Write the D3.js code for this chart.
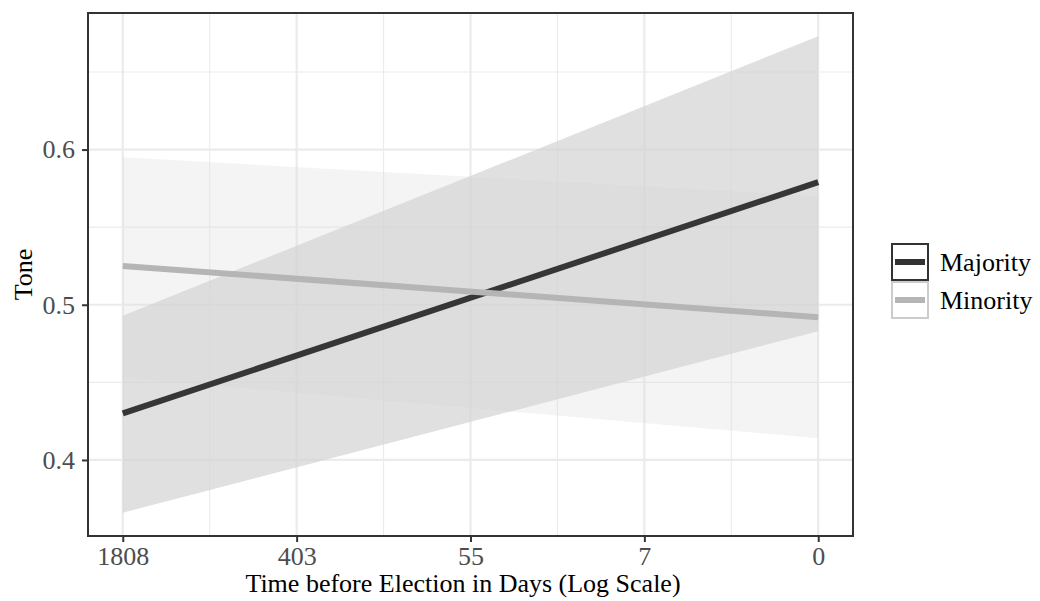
<!DOCTYPE html>
<html><head><meta charset="utf-8">
<script src="https://cdn.jsdelivr.net/npm/d3@7"></script>
<style>body{margin:0;background:#fff}svg{display:block}text{font-family:"Liberation Serif","Times New Roman",serif}</style>
</head><body><svg id="c" width="1040" height="601"></svg>
<script>
// data
const tickPos = [0, 1, 2, 3, 4];
const tickLabels = ["1808", "403", "55", "7", "0"];
const series = ["Majority", "Minority"];
const xEnds = [0, 4];
const majorityFit = [0.430, 0.579];
const majorityLo = [0.366, 0.483];
const majorityHi = [0.493, 0.673];
const minorityFit = [0.525, 0.492];
const minorityLo = [0.453, 0.414];
const minorityHi = [0.595, 0.570];
const yTicks = [0.4, 0.5, 0.6];
const yMinor = [0.45, 0.55, 0.65];

const svg = d3.select("#c");
const L = 88, R = 853, T = 13, B = 536;
const x = d3.scaleLinear().domain([-0.2, 4.2]).range([L, R]);
const y = d3.scaleLinear().domain([0.351, 0.688]).range([B, T]);

svg.append("rect").attr("x", L).attr("y", T).attr("width", R - L).attr("height", B - T).attr("fill", "#fff");
const grid = svg.append("g");
const xMinor = d3.range(0, 4).map(i => i + 0.5);
xMinor.forEach(v => grid.append("line").attr("x1", x(v)).attr("x2", x(v)).attr("y1", T).attr("y2", B).attr("stroke", "#ebebeb").attr("stroke-width", 1.1));
yMinor.forEach(v => grid.append("line").attr("x1", L).attr("x2", R).attr("y1", y(v)).attr("y2", y(v)).attr("stroke", "#ebebeb").attr("stroke-width", 1.1));
tickPos.forEach(v => grid.append("line").attr("x1", x(v)).attr("x2", x(v)).attr("y1", T).attr("y2", B).attr("stroke", "#ebebeb").attr("stroke-width", 2.2));
yTicks.forEach(v => grid.append("line").attr("x1", L).attr("x2", R).attr("y1", y(v)).attr("y2", y(v)).attr("stroke", "#ebebeb").attr("stroke-width", 2.2));

const area = d3.area().x((d, i) => x(xEnds[i])).y0(d => y(d[0])).y1(d => y(d[1]));
const line = d3.line().x((d, i) => x(xEnds[i])).y(d => y(d));
const zip = (a, b) => a.map((v, i) => [v, b[i]]);

svg.append("path").attr("d", area(zip(minorityLo, minorityHi))).attr("fill", "#dadada").attr("fill-opacity", 0.3);
svg.append("path").attr("d", area(zip(majorityLo, majorityHi))).attr("fill", "#d3d3d3").attr("fill-opacity", 0.7);
svg.append("path").attr("d", line(majorityFit)).attr("stroke", "#363636").attr("stroke-width", 6).attr("fill", "none");
svg.append("path").attr("d", line(minorityFit)).attr("stroke", "#b5b5b5").attr("stroke-width", 6).attr("fill", "none");

svg.append("rect").attr("x", L).attr("y", T).attr("width", R - L).attr("height", B - T).attr("fill", "none").attr("stroke", "#333").attr("stroke-width", 2);

// axes
const xAxis = d3.axisBottom(x).tickValues(tickPos).tickFormat((d, i) => tickLabels[i]).tickSize(6).tickPadding(5);
const gx = svg.append("g").attr("transform", `translate(0,${B})`).call(xAxis);
gx.select(".domain").remove();
gx.selectAll("line").attr("stroke", "#333").attr("stroke-width", 2);
gx.selectAll("text").attr("fill", "#4d4d4d").style("font-size", "26px").style("font-family", "Liberation Serif");

const yAxis = d3.axisLeft(y).tickValues(yTicks).tickFormat(d3.format(".1f")).tickSize(6).tickPadding(7);
const gy = svg.append("g").attr("transform", `translate(${L},0)`).call(yAxis);
gy.select(".domain").remove();
gy.selectAll("line").attr("stroke", "#333").attr("stroke-width", 2);
gy.selectAll("text").attr("fill", "#4d4d4d").style("font-size", "26px").style("font-family", "Liberation Serif");

svg.append("text").attr("x", 463).attr("y", 592).attr("text-anchor", "middle").style("font-size", "26px").attr("fill", "#000").text("Time before Election in Days (Log Scale)");
svg.append("text").attr("transform", `translate(32,${(T + B) / 2}) rotate(-90)`).attr("text-anchor", "middle").style("font-size", "26px").attr("fill", "#000").text("Tone");

// legend
const legColors = ["#333", "#b5b5b5"];
const legBorder = ["#333", "#cccccc"];
series.forEach((s, i) => {
  const g = svg.append("g").attr("transform", `translate(892,${244 + i * 38})`);
  g.append("rect").attr("x", 0).attr("y", 0).attr("width", 36).attr("height", 36).attr("fill", "#fff").attr("stroke", legBorder[i]).attr("stroke-width", 2);
  g.append("line").attr("x1", 3).attr("x2", 33).attr("y1", 18).attr("y2", 18).attr("stroke", legColors[i]).attr("stroke-width", 6);
  g.append("text").attr("x", 48).attr("y", 27).style("font-size", "26px").attr("fill", "#000").text(s);
});
</script></body></html>
